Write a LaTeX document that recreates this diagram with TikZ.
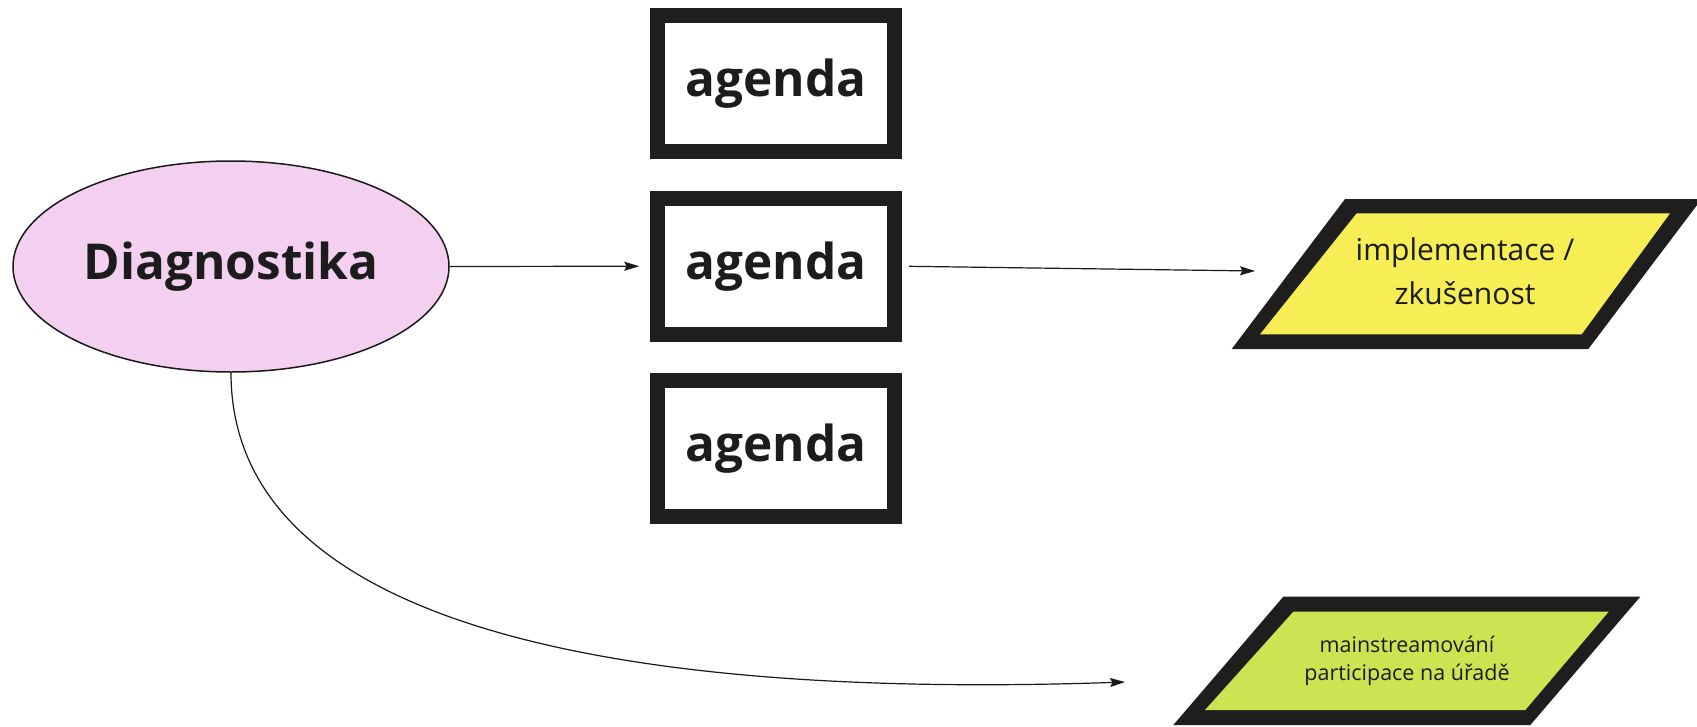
\documentclass[tikz,border=0pt]{standalone}
\usepackage{fontspec}
\setmainfont{Open Sans}
\usetikzlibrary{shapes.geometric,arrows.meta}
\definecolor{pinkfill}{HTML}{F4D0F0}
\definecolor{yellowfill}{HTML}{F7EE56}
\definecolor{greenfill}{HTML}{CDE352}
\definecolor{boxdark}{HTML}{1E1E1E}
\definecolor{textdark}{HTML}{1C1C1C}
\begin{document}
\begin{tikzpicture}[x=1pt,y=-1pt,
  conn/.style={line width=1.2pt, draw=black!90, -{Stealth[length=15pt,width=9pt,inset=2.5pt]}},
  agendabox/.style={draw=boxdark, line width=15pt, fill=white, minimum width=236.6pt,
    minimum height=136pt, inner sep=0pt, text=textdark,
    font=\fontsize{49.5}{58}\selectfont\bfseries},
  diaell/.style={ellipse, draw=black!90, line width=1.5pt, fill=pinkfill,
    minimum width=436pt, minimum height=211pt, inner sep=0pt, text=textdark,
    font=\fontsize{49.5}{58}\selectfont\bfseries},
  ytext/.style={align=center, inner sep=0pt, text=textdark, font=\fontsize{30}{44.3}\selectfont},
  gtext/.style={align=center, inner sep=0pt, text=textdark, font=\fontsize{21.5}{27.5}\selectfont}
]
\useasboundingbox (0,0) rectangle (1697,726);
\fill[white] (0,0) rectangle (1697,726);
\begin{scope}
\clip (0,0) rectangle (1697,726);
% parallelograms
\fill[boxdark] (1345,199) -- (1701.6,199) -- (1588.3,349) -- (1231.7,349) -- cycle;
\fill[yellowfill] (1356.7,213.3) -- (1670,213.3) -- (1581.7,334.3) -- (1260,334.3) -- cycle;
\fill[boxdark] (1283.3,596.7) -- (1640.3,596.7) -- (1530.3,725) -- (1173.3,725) -- cycle;
\fill[greenfill] (1293.3,611.7) -- (1608.7,611.7) -- (1525.3,710) -- (1205,710) -- cycle;
\end{scope}
\node[ytext] (ytxt) at (1465,271.5) {implementace /\\zkušenost};
\node[gtext] (gtxt) at (1407,661) {mainstreamování\\participace na úřadě};
% ellipse and boxes
\node[diaell] (dia) at (231,266.5) {Diagnostika};
\node[agendabox] (box1) at (775.8,83.8) {agenda};
\node[agendabox] (box2) at (775.8,266.2) {agenda};
\node[agendabox] (box3) at (775.8,448.8) {agenda};
% connector ends
\coordinate (yin) at (1255,271);
\coordinate (gin) at (1125,682);
% connectors
\draw[conn, shorten >=10.8pt] (dia.east) -- (box2.west);
\draw[conn, shorten <=7.5pt] (box2.east) -- (yin);
\draw[conn] (dia.south) .. controls (231,620) and (600,700) .. (gin);
\end{tikzpicture}
\end{document}
